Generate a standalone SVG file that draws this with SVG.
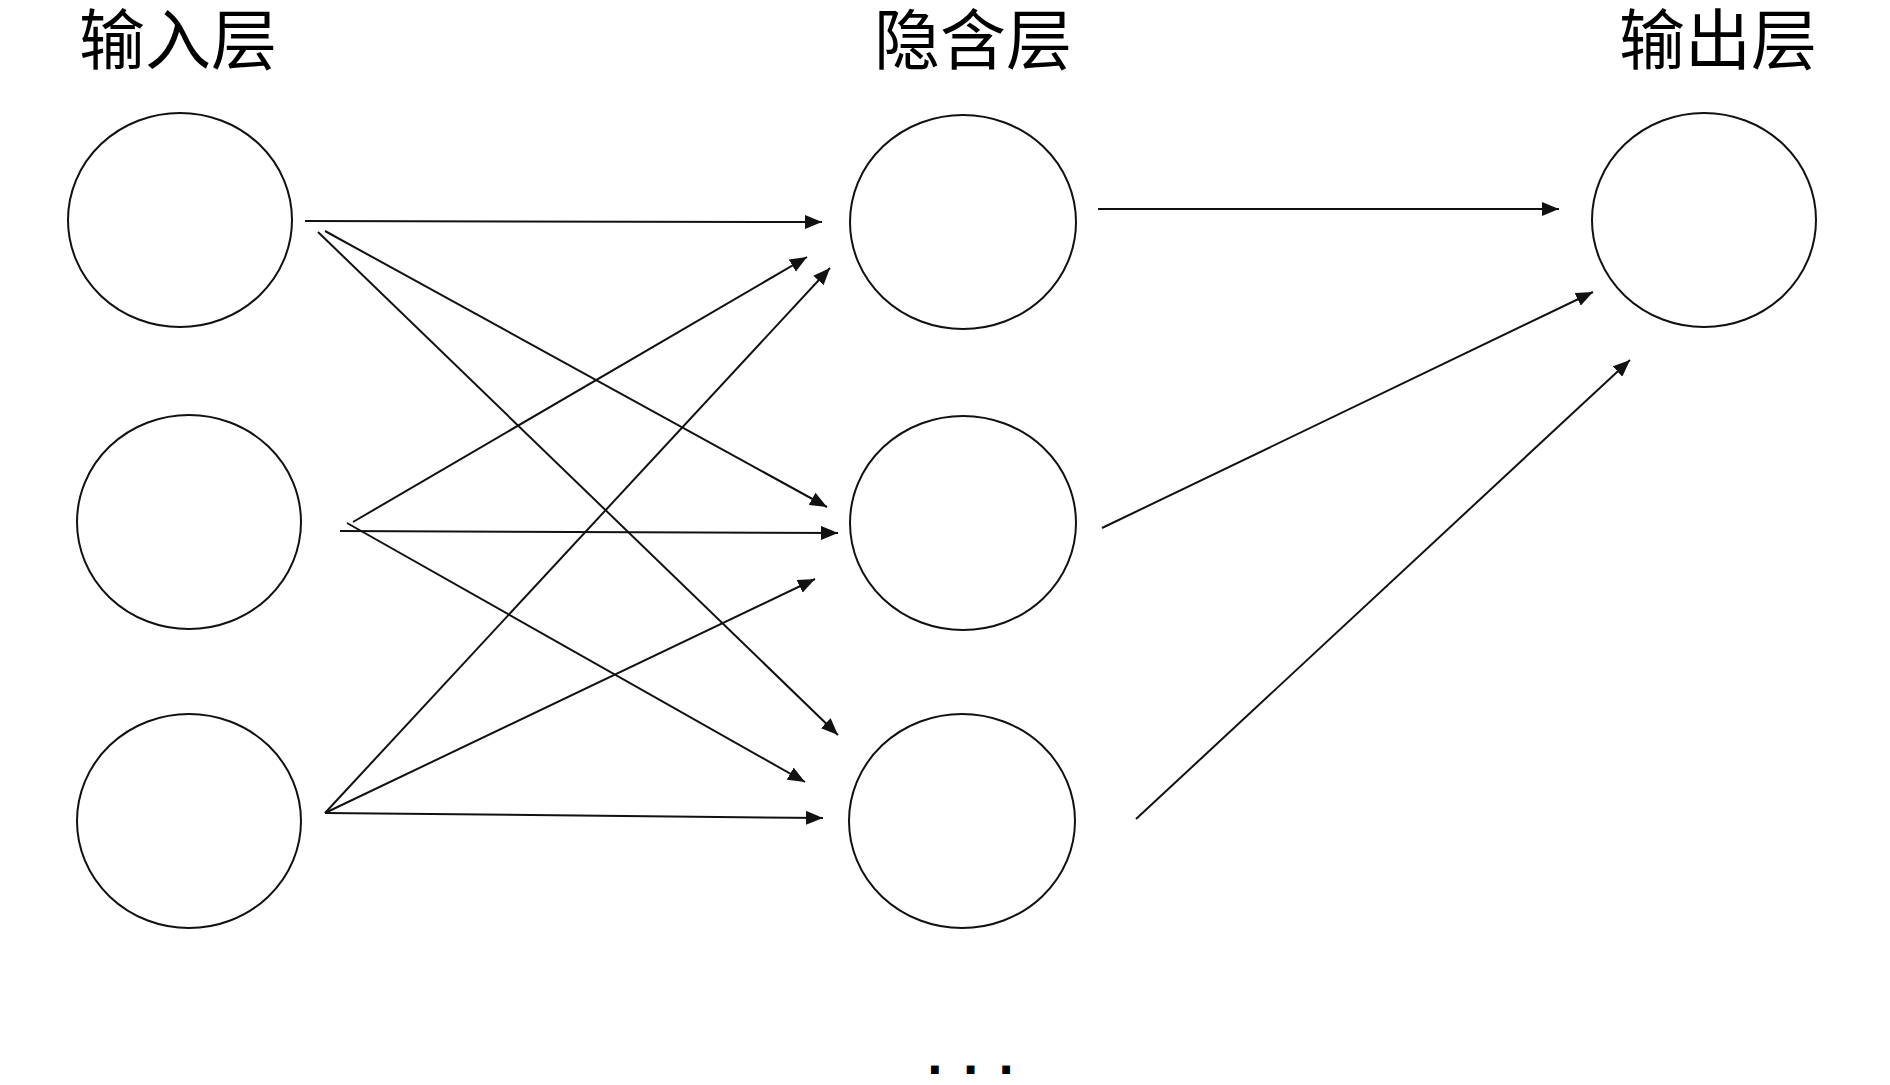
<svg xmlns="http://www.w3.org/2000/svg" width="1890" height="1085" viewBox="0 0 1890 1085">
<style>
.node{fill:#fff;stroke:#111;stroke-width:2}
.title{font-family:"Liberation Serif","Noto Sans CJK SC",serif;font-size:66px;fill:#000;text-anchor:middle}
.edge{stroke:#111;stroke-width:2;fill:none;marker-end:url(#arr)}
.dots{font-family:"DejaVu Sans",sans-serif;font-weight:bold;font-size:44px;fill:#000;text-anchor:middle;letter-spacing:19px}
</style>
<defs>
<marker id="arr" markerUnits="userSpaceOnUse" markerWidth="17" markerHeight="14" refX="17" refY="7" orient="auto">
<path d="M0,0 L17,7 L0,14 z" fill="#111"/>
</marker>
</defs>
<rect width="1890" height="1085" fill="#fff"/>
<g id="titles">
<text class="title" x="178" y="64">输入层</text>
<text class="title" x="973" y="64">隐含层</text>
<text class="title" x="1718" y="64">输出层</text>
</g>
<g id="input1"><ellipse class="node" cx="180" cy="220" rx="112" ry="107"/></g>
<g id="input2"><ellipse class="node" cx="189" cy="522" rx="112" ry="107"/></g>
<g id="input3"><ellipse class="node" cx="189" cy="821" rx="112" ry="107"/></g>
<g id="hidden1"><ellipse class="node" cx="963" cy="222" rx="113" ry="107"/></g>
<g id="hidden2"><ellipse class="node" cx="963" cy="523" rx="113" ry="107"/></g>
<g id="hidden3"><ellipse class="node" cx="962" cy="821" rx="113" ry="107"/></g>
<g id="output1"><ellipse class="node" cx="1704" cy="220" rx="112" ry="107"/></g>
<g id="connectors">
<line class="edge" x1="305" y1="221" x2="822" y2="222"/>
<line class="edge" x1="325" y1="231" x2="827" y2="507"/>
<line class="edge" x1="318" y1="232" x2="838" y2="735"/>
<line class="edge" x1="353" y1="522" x2="807" y2="257"/>
<line class="edge" x1="340" y1="531" x2="838" y2="533"/>
<line class="edge" x1="347" y1="523" x2="805" y2="782"/>
<line class="edge" x1="325" y1="813" x2="830" y2="268"/>
<line class="edge" x1="325" y1="813" x2="815" y2="579"/>
<line class="edge" x1="325" y1="813" x2="823" y2="818"/>
<line class="edge" x1="1098" y1="209" x2="1559" y2="209"/>
<line class="edge" x1="1102" y1="528" x2="1593" y2="292"/>
<line class="edge" x1="1136" y1="819" x2="1630" y2="360"/>
</g>
<g id="ellipsis"><text class="dots" x="980" y="1074">...</text></g>
</svg>
